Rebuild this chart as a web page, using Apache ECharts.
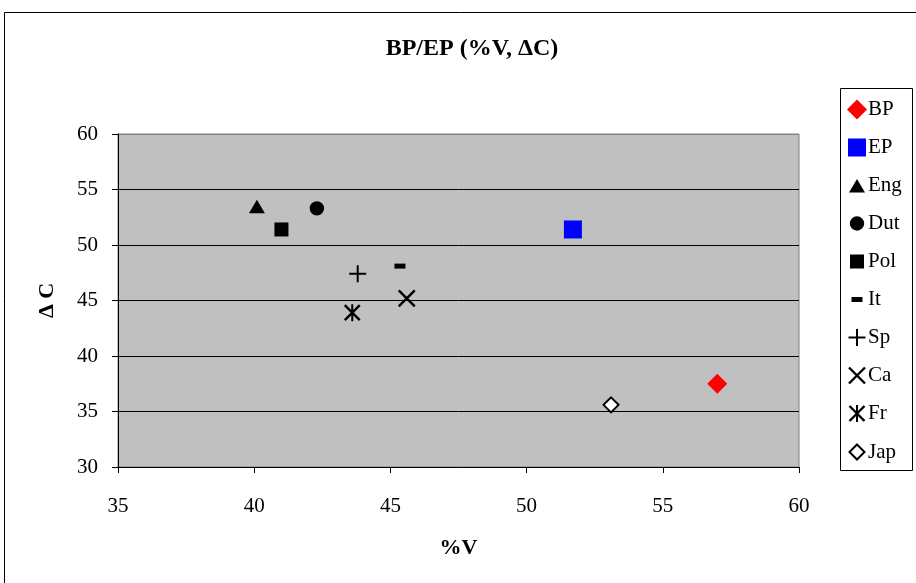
<!DOCTYPE html>
<html><head><meta charset="utf-8">
<script src="https://cdn.jsdelivr.net/npm/echarts@6/dist/echarts.min.js"></script>
<style>html,body{margin:0;padding:0;background:#fff}#c{width:916px;height:583px}</style>
</head><body><div id="c"></div>
<script>
const seriesNames = ['BP','EP','Eng','Dut','Pol','It','Sp','Ca','Fr','Jap'];
const xValues = [57.0, 51.7, 40.1, 42.3, 41.0, 45.35, 43.8, 45.6, 43.6, 53.1];
const yValues = [37.5, 51.4, 53.5, 53.3, 51.4, 48.1, 47.4, 45.2, 43.9, 35.6];
const xTicks = [35, 40, 45, 50, 55, 60];
const yTicks = [30, 35, 40, 45, 50, 55, 60];

const FONT = 'Liberation Serif';
const PAD = 'M0,0M20,20';
const SYM = {
  BP:  'path://M10,0.5L19.5,10L10,19.5L0.5,10Z',
  EP:  'path://' + PAD + 'M1,1L19,1L19,19L1,19Z',
  Eng: 'path://' + PAD + 'M2,17L18,17L10,3.5Z',
  Dut: 'path://' + PAD + 'M2.8,10A7.2,7.2,0,1,1,17.2,10A7.2,7.2,0,1,1,2.8,10Z',
  Pol: 'path://' + PAD + 'M3,3L17,3L17,17L3,17Z',
  It:  'path://' + PAD + 'M4.5,7.5L15.5,7.5L15.5,12.5L4.5,12.5Z',
  Sp:  'path://' + PAD + 'M1.5,9L18.5,9L18.5,11L1.5,11Z M9,1.5L11,1.5L11,18.5L9,18.5Z',
  Ca:  'path://' + PAD + 'M2.85,1.15L18.85,17.15L17.15,18.85L1.15,2.85Z M17.15,1.15L18.85,2.85L2.85,18.85L1.15,17.15Z',
  Fr:  'path://' + PAD + 'M3.35,1.65L18.35,16.65L16.65,18.35L1.65,3.35Z M16.65,1.65L18.35,3.35L3.35,18.35L1.65,16.65Z M9,1.5L11,1.5L11,18.5L9,18.5Z',
  Jap: 'path://' + PAD + 'M10,2.5L17.5,10L10,17.5L2.5,10Z'
};
const ITEM = {
  BP:{color:'#ff0000'}, EP:{color:'#0000ff'},
  Jap:{color:'#ffffff', borderColor:'#000', borderWidth:2}
};

const series = seriesNames.map((n,i)=>({
  name:n, type:'scatter',
  data:[[xValues[i], yValues[i]]],
  symbol:SYM[n], symbolSize:20,
  itemStyle:Object.assign({color:'#000', opacity:1}, ITEM[n] || {}),
  emphasis:{disabled:true}
}));

const chart = echarts.init(document.getElementById('c'), null, {renderer:'canvas'});
chart.setOption({
  animation:false,
  backgroundColor:'#fff',
  title:{text:'BP/EP (%V, \u0394C)', left:467, top:32, textAlign:'center',
    textStyle:{fontFamily:FONT, fontWeight:'bold', fontSize:24, color:'#000'}},
  grid:{left:118, top:134, width:681, height:333, show:true, backgroundColor:'#c0c0c0',
    borderColor:'#808080', borderWidth:1},
  legend:{orient:'vertical', left:846, top:99, padding:0, itemGap:17,
    itemWidth:20, itemHeight:20, selectedMode:false,
    textStyle:{fontFamily:FONT, fontSize:21, color:'#000', padding:[0,0,0,-4]},
    data:seriesNames},
  xAxis:{type:'value', min:xTicks[0], max:xTicks[xTicks.length-1], interval:5,
    name:'%V', nameLocation:'middle', nameGap:70,
    nameTextStyle:{fontFamily:FONT, fontWeight:'bold', fontSize:22, color:'#000'},
    axisLine:{lineStyle:{color:'#000', width:1}},
    axisTick:{show:true, length:6, lineStyle:{color:'#000'}},
    axisLabel:{fontFamily:FONT, fontSize:21, color:'#000', margin:29},
    splitLine:{show:false}},
  yAxis:{type:'value', min:yTicks[0], max:yTicks[yTicks.length-1], interval:5,
    name:'\u0394 C', nameLocation:'middle', nameGap:60, nameRotate:90,
    nameTextStyle:{fontFamily:FONT, fontWeight:'bold', fontSize:22, color:'#000'},
    axisLine:{show:true, lineStyle:{color:'#000', width:1}},
    axisTick:{show:true, length:6, lineStyle:{color:'#000'}},
    axisLabel:{fontFamily:FONT, fontSize:21, color:'#000', margin:20},
    splitLine:{show:true, lineStyle:{color:['#000','#000','#000','#000','#000','#000','#808080'], width:1}}},
  graphic:[
    {type:'rect', shape:{x:4.5, y:12.5, width:1000, height:1000}, silent:true,
      style:{fill:null, stroke:'#000', lineWidth:1}},
    {type:'rect', shape:{x:840.5, y:88.5, width:72, height:382}, silent:true,
      style:{fill:null, stroke:'#000', lineWidth:1}}
  ],
  series:series
});
</script></body></html>
